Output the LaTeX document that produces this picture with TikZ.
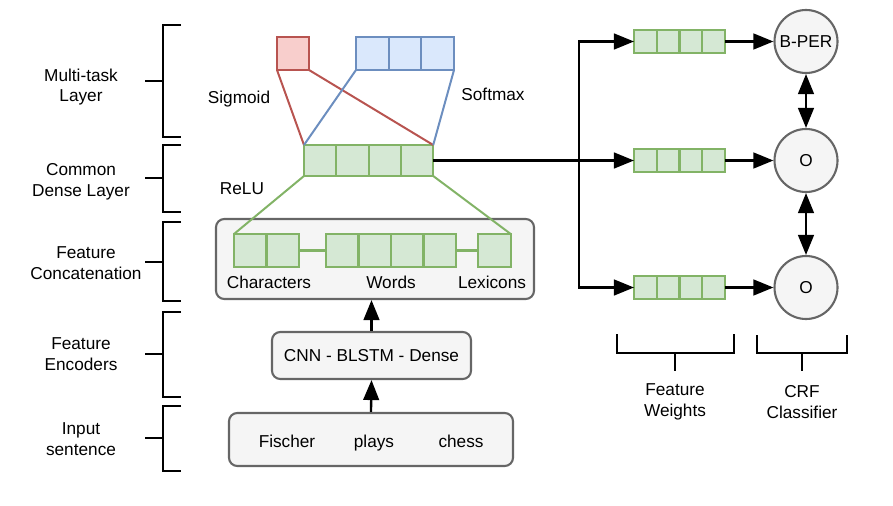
\documentclass[tikz,border=0pt]{standalone}
\usepackage{fontspec}
\setmainfont{Liberation Sans}
\usetikzlibrary{arrows.meta,positioning}

\definecolor{greenfill}{HTML}{D5E8D4}
\definecolor{greenline}{HTML}{82B366}
\definecolor{redfill}{HTML}{F8CECC}
\definecolor{redline}{HTML}{B85450}
\definecolor{bluefill}{HTML}{DAE8FC}
\definecolor{blueline}{HTML}{6C8EBF}
\definecolor{greyfill}{HTML}{F5F5F5}
\definecolor{greyline}{HTML}{666666}

\begin{document}
\begin{tikzpicture}[x=0.03cm, y=-0.03cm,
font=\fontsize{14.7}{17.6}\selectfont,
cell/.style={draw=greenline, fill=greenfill, line width=1.8pt, inner sep=0pt, outer sep=0pt},
dcell/.style={cell, minimum width=0.97cm, minimum height=0.93cm},
ccell/.style={cell, minimum width=0.975cm, minimum height=0.99cm},
wcell/.style={cell, minimum width=0.683cm, minimum height=0.69cm},
sigcell/.style={cell, draw=redline, fill=redfill, minimum width=0.96cm, minimum height=0.99cm},
softcell/.style={cell, draw=blueline, fill=bluefill, minimum width=0.98cm, minimum height=0.99cm},
greybox/.style={draw=greyline, fill=greyfill, line width=1.8pt, rounded corners=0.25cm, inner sep=0pt},
tag/.style={circle, draw=greyline, fill=greyfill, line width=1.8pt, inner sep=0pt, minimum size=1.89cm},
conn/.style={line width=2pt, -{Triangle[length=0.6cm, width=0.47cm]}},
twoway/.style={line width=2pt, {Triangle[length=0.6cm, width=0.47cm]}-{Triangle[length=0.6cm, width=0.47cm]}},
brace/.style={line width=2.4pt},
txt/.style={align=center, inner sep=0pt},
word/.style={inner sep=0pt, anchor=base}]

\def\brx{163}	% left brackets
\def\tick{18}

\useasboundingbox (0,0) rectangle (893,506);

% brackets on the left
\foreach \ya/\yb/\ym in {25/137/81, 145/212/178, 222/301/262, 312/397/354, 406/471/438}
  \draw[brace] (\brx+\tick,\ya) -- (\brx,\ya) -- (\brx,\yb) -- (\brx+\tick,\yb)
    (\brx-\tick,\ym) -- (\brx,\ym);

\node[txt] (lmulti) at (81,87) {Multi-task\\Layer};
\node[txt] (ldense) at (81,182) {Common\\Dense Layer};
\node[txt] (lconcat) at (86,263) {Feature\\Concatenation};
\node[txt] (lenc) at (81,354) {Feature\\Encoders};
\node[txt] (linput) at (81,439) {Input\\sentence};

% input and encoders
\node[greybox, minimum width=8.52cm, minimum height=1.59cm] (input) at (371,439.5) {};
\node[word] (wfischer) at (287,447.5) {Fischer};
\node[word] (wplays) at (374,447.5) {plays};
\node[word] (wchess) at (461,447.5) {chess};
\node[greybox, minimum width=5.97cm, minimum height=1.41cm] (cnn) at (371.5,355.5) {CNN - BLSTM - Dense};

% concatenation
\node[greybox, minimum width=9.54cm, minimum height=2.4cm] (concat) at (375,259) {};
\foreach \i in {1,2}
  \node[ccell] (chr\i) at ({234+16.25+32.5*(\i-1)},250.5) {};
\foreach \i in {1,...,4}
  \node[ccell] (wrd\i) at ({326+16.25+32.5*(\i-1)},250.5) {};
\node[ccell] (lex) at (494.5,250.5) {};
\draw[greenline, line width=1.8pt] (chr2.east) -- (wrd1.west) (wrd4.east) -- (lex.west);
\node[word] (lchr) at (269,288.5) {Characters};
\node[word] (lwrd) at (391,288.5) {Words};
\node[word] (llex) at (492,288.5) {Lexicons};

\draw[conn] (input.north) -- (cnn.south);
\draw[conn] (cnn.north) -- (cnn.north |- concat.south);

% dense + multi-task
\foreach \i in {1,...,4}
  \node[dcell] (dense\i) at ({304+16.15+32.3*(\i-1)},160.5) {};
\node[sigcell] (sig) at (293,53.5) {};
\foreach \i in {1,2,3}
  \node[softcell] (soft\i) at ({356+16.33+32.67*(\i-1)},53.5) {};

\draw[greenline, line width=1.7pt] (dense1.south west) -- (chr1.north west)
  (dense4.south east) -- (lex.north east);
\draw[redline, line width=1.7pt] (sig.south west) -- (dense1.north west)
  (sig.south east) -- (dense4.north east);
\draw[blueline, line width=1.7pt] (soft1.south west) -- (dense1.north west)
  (soft3.south east) -- (dense4.north east);

\node[txt] (lsig) at (239,99) {Sigmoid};
\node[txt] (lsoft) at (493,94) {Softmax};
\node[txt] (lrelu) at (242,189) {ReLU};

% feature weights
\foreach \row/\y in {1/41.5, 2/160.5, 3/287.5}
  \foreach \i in {1,...,4}
    \node[wcell] (w\row\i) at ({634+11.375+22.75*(\i-1)},\y) {};

\coordinate (split) at (579,160.5);
\draw[line width=2pt] (dense4.east) -- (split);
\draw[conn] (split) |- (w11.west);
\draw[conn] (split) -- (w21.west);
\draw[conn] (split) |- (w31.west);

% CRF
\node[tag] (bper) at (806,41.5) {B-PER};
\node[tag] (ofirst) at (806,160.5) {O};
\node[tag] (osecond) at (806,287.5) {O};
\draw[conn] (w14) -- (bper);
\draw[conn] (w24) -- (ofirst);
\draw[conn] (w34) -- (osecond);
\draw[twoway] (bper) -- (ofirst);
\draw[twoway] (ofirst) -- (osecond);

% brackets below
\draw[brace] (617,334) -- (617,353) -- (734,353) -- (734,334) (675,353) -- (675,371);
\draw[brace] (757,335) -- (757,353) -- (847,353) -- (847,335) (802,353) -- (802,371);
\node[txt] (lweights) at (675,402) {Feature\\Weights};
\node[txt] (lcrf) at (802,402) {CRF\\Classifier};

\end{tikzpicture}
\end{document}
